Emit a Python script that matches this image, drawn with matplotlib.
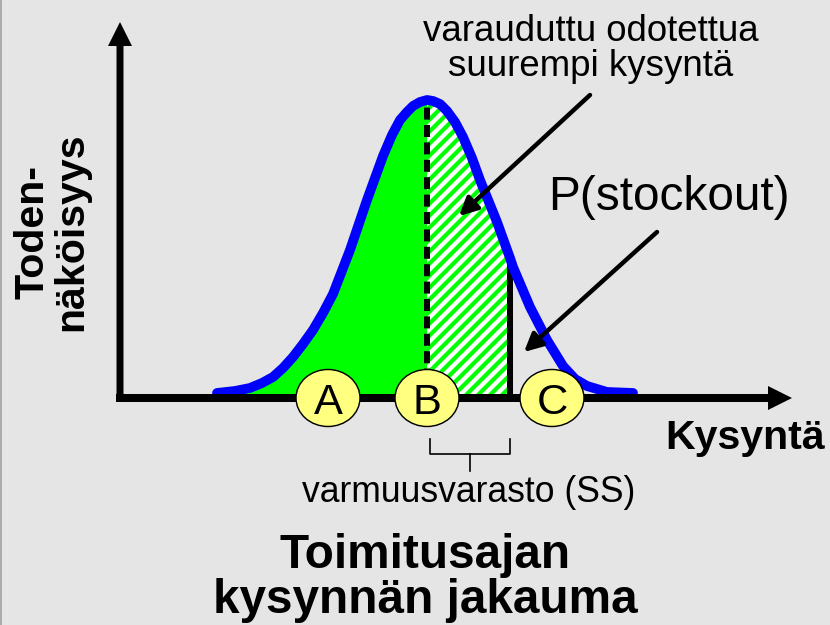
import matplotlib
matplotlib.use("Agg")
import matplotlib.pyplot as plt
from matplotlib.patches import Ellipse, FancyArrow, Polygon

# --------------------------
# DATA (x in px, height above the baseline in px)
# --------------------------
curve_x = [217, 235, 250, 262, 273, 283, 293, 303, 313, 323, 333, 350, 367, 383,
           392, 400, 407, 413, 420, 427, 433, 440, 447, 455, 463, 472, 480, 497,
           510, 513, 530, 547, 563, 575, 587, 607, 633]
curve_h = [5, 7, 10, 15, 21, 30, 41, 54, 68, 85, 104, 148, 198, 242,
           263, 278, 286, 292, 296, 298, 297, 294, 287, 276, 261, 240, 218, 176,
           140, 131, 91, 58, 32, 19, 12, 6, 5]
mean_x = 427          # expected demand
ss_x = 510            # reorder point (mean + safety stock)
circle_labels = ["A", "B", "C"]
circle_x = [328, 427, 552]

BG = "#e5e5e5"
GREEN = "#00ff00"
BLUE = "#0000ff"
FONT = "Liberation Sans"

plt.rcParams["font.family"] = [FONT, "DejaVu Sans"]

fig = plt.figure(figsize=(10.375, 7.8125), dpi=80, facecolor=BG)
ax = fig.add_axes([0, 0, 1, 1])
ax.set_facecolor(BG)
ax.set_xlim(0, 830)
ax.set_ylim(398 - 625, 398)
ax.set_aspect("equal")
ax.axis("off")

# --------------------------
# FILLED AREAS
# --------------------------
left_x = [x for x in curve_x if x <= mean_x]
left_h = curve_h[:len(left_x)]
ax.fill_between(left_x, 0, left_h, color=GREEN, lw=0, zorder=1)

# hatched part between mean and reorder point: white with green stripes
mid = [(x, h) for x, h in zip(curve_x, curve_h) if mean_x <= x <= ss_x]
mid_poly = Polygon([(mean_x, 0)] + mid + [(ss_x, 0)], closed=True,
                   facecolor="white", edgecolor="none", zorder=1)
ax.add_patch(mid_poly)
for x0 in range(mean_x - 324, ss_x + 12, 12):
    stripe, = ax.plot([x0, x0 + 330], [0, 330], color=GREEN, lw=3.8, zorder=1.5)
    stripe.set_clip_path(mid_poly)

ss_top = dict(zip(curve_x, curve_h))[ss_x]
ax.plot([ss_x, ss_x], [0, ss_top - 4], color="black", lw=5.4, zorder=2,
        solid_capstyle="butt")
ax.plot([mean_x, mean_x], [0, 297], color="black", lw=5.4, zorder=2,
        dashes=(2.0, 0.9))

# curve
ax.plot(curve_x, curve_h, color=BLUE, lw=8.8, zorder=3,
        solid_joinstyle="round", solid_capstyle="round")

# --------------------------
# AXES ARROWS
# --------------------------
ax.add_patch(FancyArrow(116, 0, 676, 0, width=8, head_width=24, head_length=24,
                        length_includes_head=True, color="black", lw=0, zorder=4))
ax.add_patch(FancyArrow(120, -4, 0, 380, width=7, head_width=24, head_length=24,
                        length_includes_head=True, color="black", lw=0, zorder=4))

# --------------------------
# CIRCLES A B C
# --------------------------
for lab, cx in zip(circle_labels, circle_x):
    ax.add_patch(Ellipse((cx, 0), 64, 57, facecolor="#ffff80", edgecolor="black",
                         lw=1.3, zorder=5))
    ax.text(cx, 0, lab, ha="center", va="center_baseline", fontsize=39, zorder=6)

# --------------------------
# ANNOTATIONS
# --------------------------
ax.annotate("", xy=(459, 182), xytext=(590, 303),
            arrowprops=dict(arrowstyle="-|>", lw=4, color="black",
                            mutation_scale=34, shrinkA=0, shrinkB=0), zorder=6)
ax.annotate("", xy=(524, 46), xytext=(657, 166),
            arrowprops=dict(arrowstyle="-|>", lw=4, color="black",
                            mutation_scale=34, shrinkA=0, shrinkB=0), zorder=6)

ax.text(591, 349, "varauduttu odotettua\nsuurempi kysyntä", ha="center",
        va="center", fontsize=33, linespacing=1.0)
ax.text(669, 200, "P(stockout)", ha="center", va="center", fontsize=43)

# safety stock bracket
ax.plot([430, 430, 510, 510], [-41, -56, -56, -41], color="black", lw=1.5)
ax.plot([470, 470], [-56, -73], color="black", lw=1.5)
ax.text(469, -95, "varmuusvarasto (SS)", ha="center", va="center", fontsize=32)

ax.text(745, -40, "Kysyntä", ha="center", va="center", fontsize=37,
        fontweight="bold")
ax.text(52, 166, "Toden-\nnäköisyys", ha="center", va="center", rotation=90,
        fontsize=37, fontweight="bold", linespacing=1.0)
ax.text(425, 398 - 578, "Toimitusajan\nkysynnän jakauma", ha="center",
        va="center", fontsize=43, fontweight="bold", linespacing=1.0)

# thin frame line on the left edge
ax.plot([0.5, 0.5], [398, 398 - 625], color="#a0a0a0", lw=1.5)

fig.savefig("out.png", dpi=80, facecolor=BG)
